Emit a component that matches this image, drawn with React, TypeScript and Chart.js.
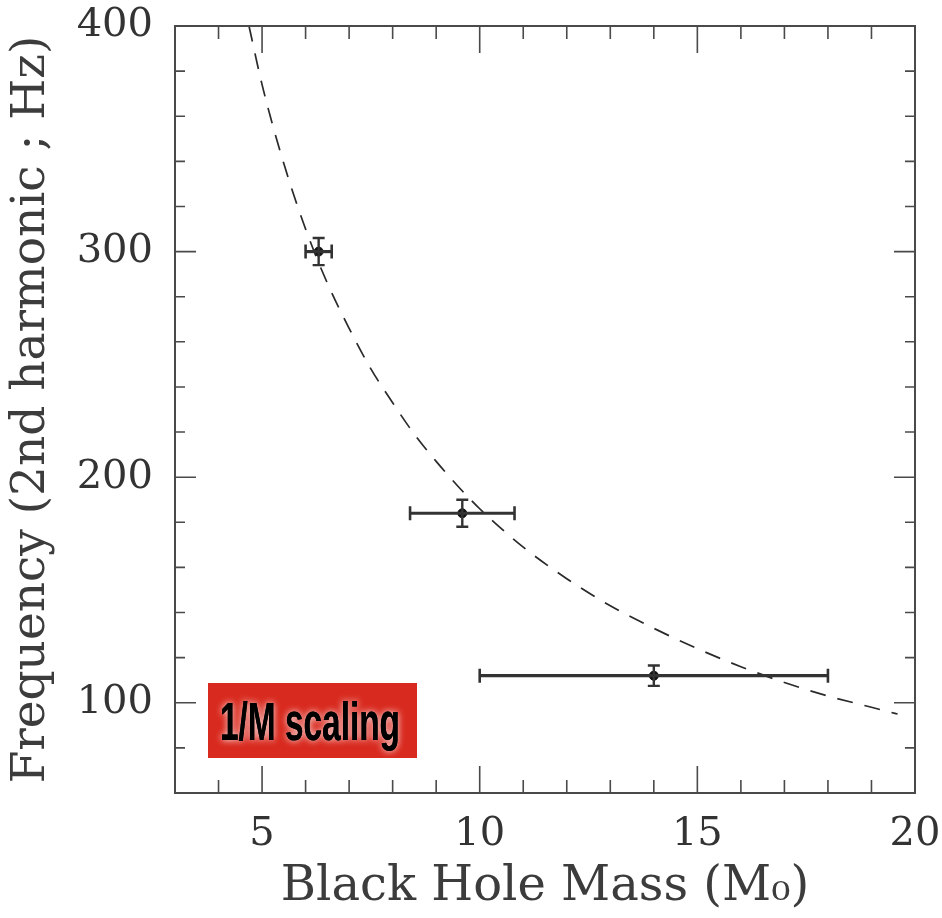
import { useEffect, useRef } from 'react';
import { Chart, registerables } from 'chart.js';

Chart.register(...registerables);

// Dashed 1/M curve
const curveMass = [4.7, 5.0, 5.5, 6.0, 6.5, 7.0, 7.5, 8.0, 8.5, 9.0, 9.5, 10, 11, 12, 13, 14, 15, 16, 17, 18, 19, 19.6];
const curveFreq = [400, 374, 339, 310, 286, 266, 248, 233, 219, 207, 196, 186, 169, 155, 143, 133, 124, 116, 109, 103, 98, 95];

// Measured points with error bars
const massValues = [6.3, 9.6, 14.0];
const freqValues = [300, 184, 112];
const massErrLow = [0.3, 1.2, 4.0];
const massErrHigh = [0.3, 1.2, 4.0];
const freqErr = [6, 6, 4.5];

// Axes
const xTickLabels = [5, 10, 15, 20];
const yTickLabels = [100, 200, 300, 400];
const xMinorTicks = [4, 6, 7, 8, 9, 11, 12, 13, 14, 16, 17, 18, 19];
const yMinorTicks = [80, 120, 140, 160, 180, 220, 240, 260, 280, 320, 340, 360, 380];

const annotationText = '1/M scaling';
const xTitle = 'Black Hole Mass (M\u2080)';
const yTitle = 'Frequency (2nd harmonic ; Hz)';

export default function App() {
  const ref = useRef<HTMLCanvasElement>(null);

  useEffect(() => {
    const framePlugin = {
      id: 'frameTicks',
      afterDatasetsDraw(chart: any) {
        const { ctx, chartArea: a, scales } = chart;
        const xs = scales.x;
        const ys = scales.y;
        ctx.save();
        ctx.strokeStyle = '#4a4a4a';
        ctx.lineWidth = 2;
        ctx.strokeRect(a.left, a.top, a.right - a.left, a.bottom - a.top);
        ctx.lineWidth = 1.6;
        const xTick = (v: number, len: number) => {
          const p = xs.getPixelForValue(v);
          ctx.beginPath();
          ctx.moveTo(p, a.bottom);
          ctx.lineTo(p, a.bottom - len);
          ctx.moveTo(p, a.top);
          ctx.lineTo(p, a.top + len);
          ctx.stroke();
        };
        const yTick = (v: number, len: number) => {
          const p = ys.getPixelForValue(v);
          ctx.beginPath();
          ctx.moveTo(a.left, p);
          ctx.lineTo(a.left + len, p);
          ctx.moveTo(a.right, p);
          ctx.lineTo(a.right - len, p);
          ctx.stroke();
        };
        xMinorTicks.forEach((v) => xTick(v, 13));
        xTickLabels.forEach((v) => xTick(v, 27));
        yMinorTicks.forEach((v) => yTick(v, 10));
        yTickLabels.forEach((v) => yTick(v, 21));

        // error bars
        ctx.strokeStyle = '#333';
        massValues.forEach((m, i) => {
          const cx = xs.getPixelForValue(m);
          const cy = ys.getPixelForValue(freqValues[i]);
          const x0 = xs.getPixelForValue(m - massErrLow[i]);
          const x1 = xs.getPixelForValue(m + massErrHigh[i]);
          const y0 = ys.getPixelForValue(freqValues[i] - freqErr[i]);
          const y1 = ys.getPixelForValue(freqValues[i] + freqErr[i]);
          ctx.lineWidth = 3.2;
          ctx.beginPath();
          ctx.moveTo(x0, cy);
          ctx.lineTo(x1, cy);
          ctx.stroke();
          ctx.lineWidth = 2.6;
          ctx.beginPath();
          ctx.moveTo(x0, cy - 7);
          ctx.lineTo(x0, cy + 7);
          ctx.moveTo(x1, cy - 7);
          ctx.lineTo(x1, cy + 7);
          ctx.stroke();
          ctx.lineWidth = 2.4;
          ctx.beginPath();
          ctx.moveTo(cx, y0);
          ctx.lineTo(cx, y1);
          ctx.moveTo(cx - 6, y0);
          ctx.lineTo(cx + 6, y0);
          ctx.moveTo(cx - 6, y1);
          ctx.lineTo(cx + 6, y1);
          ctx.stroke();
        });
        ctx.restore();
      },
      afterDraw(chart: any) {
        const { ctx, chartArea: a } = chart;
        const bx = a.left + 33;
        const by = a.bottom - 110;
        const bw = 209;
        const bh = 75;
        ctx.save();
        ctx.fillStyle = '#d92a1f';
        ctx.fillRect(bx, by, bw, bh);
        ctx.font = 'bold 53px "Liberation Sans", "DejaVu Sans", sans-serif';
        const w = ctx.measureText(annotationText).width;
        const sx = 180 / w;
        ctx.translate(bx + 12, by + 57);
        ctx.scale(sx, 1);
        ctx.textBaseline = 'alphabetic';
        ctx.shadowColor = 'rgba(255,255,255,0.95)';
        ctx.shadowBlur = 7;
        ctx.fillStyle = '#000';
        ctx.fillText(annotationText, 0, 0);
        ctx.shadowBlur = 0;
        ctx.fillText(annotationText, 0, 0);
        ctx.restore();
      },
    };

    const chart = new Chart(ref.current as HTMLCanvasElement, {
      type: 'scatter',
      data: {
        datasets: [
          {
            type: 'line',
            data: curveMass.map((m, i) => ({ x: m, y: curveFreq[i] })),
            borderColor: '#2a2a2a',
            borderWidth: 1.7,
            borderDash: [16, 12],
            pointRadius: 0,
            cubicInterpolationMode: 'monotone',
            fill: false,
          } as any,
          {
            data: massValues.map((m, i) => ({ x: m, y: freqValues[i] })),
            pointRadius: 4.5,
            backgroundColor: '#111',
            borderColor: '#111',
          },
        ],
      },
      options: {
        animation: false,
        responsive: true,
        maintainAspectRatio: false,
        layout: { padding: { top: 26, right: 27, left: 0, bottom: 0 } },
        plugins: { legend: { display: false }, tooltip: { enabled: false } },
        scales: {
          x: {
            type: 'linear',
            min: 3,
            max: 20,
            grid: { display: false, drawTicks: false },
            border: { display: false },
            afterBuildTicks: (s: any) => {
              s.ticks = xTickLabels.map((v) => ({ value: v }));
            },
            afterFit: (s: any) => {
              s.height = 125;
              s.paddingLeft = 0;
              s.paddingRight = 0;
            },
            ticks: {
              padding: 18,
              autoSkip: false,
              maxRotation: 0,
              color: '#333',
              font: { family: '"DejaVu Serif", serif', size: 40 },
            },
            title: {
              display: true,
              text: xTitle,
              color: '#3c3c3c',
              font: { family: '"DejaVu Serif", serif', size: 48 },
              padding: { top: 0, bottom: 2 },
            },
          },
          y: {
            type: 'linear',
            min: 60,
            max: 400,
            grid: { display: false, drawTicks: false },
            border: { display: false },
            afterBuildTicks: (s: any) => {
              s.ticks = yTickLabels.map((v) => ({ value: v }));
            },
            afterFit: (s: any) => {
              s.width = 175;
              s.paddingTop = 0;
              s.paddingBottom = 0;
            },
            ticks: {
              padding: 22,
              autoSkip: false,
              color: '#333',
              font: { family: '"DejaVu Serif", serif', size: 40 },
            },
            title: {
              display: true,
              text: yTitle,
              color: '#3c3c3c',
              font: { family: '"DejaVu Serif", serif', size: 47 },
              padding: { top: 4, bottom: 0 },
            },
          },
        },
      },
      plugins: [framePlugin],
    });
    return () => chart.destroy();
  }, []);

  return (
    <div style={{ position: 'fixed', left: 0, top: 0, width: 942, height: 918, background: '#fff' }}>
      <canvas ref={ref} />
    </div>
  );
}
